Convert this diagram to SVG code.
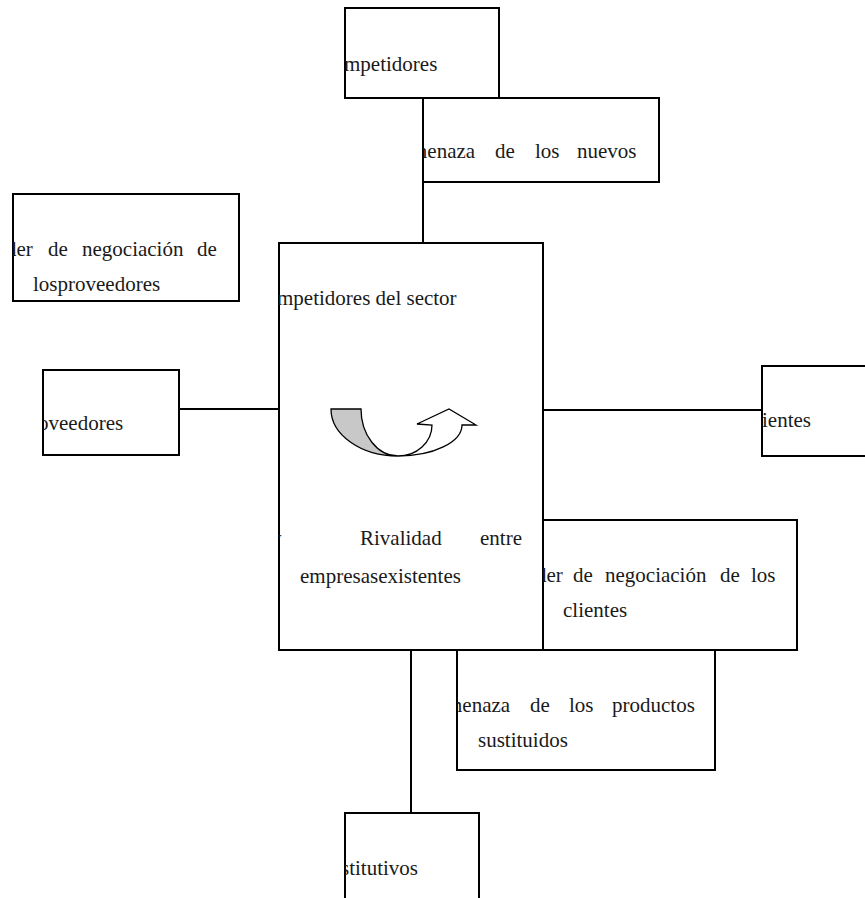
<svg xmlns="http://www.w3.org/2000/svg" width="865" height="898" viewBox="0 0 865 898">
  <style>
    .box { fill: #ffffff; stroke: #000000; stroke-width: 2; }
    .link { fill: none; stroke: #000000; stroke-width: 2; }
    .t { font-family: "Liberation Serif", "Times New Roman", serif; font-size: 21px; fill: #1a1a1a; }
    .arrow { stroke: #000000; stroke-width: 1.3; stroke-linejoin: miter; }
  </style>
  <defs>
    <clipPath id="c-comp"><rect x="345" y="8" width="154" height="90"/></clipPath>
    <clipPath id="c-nuevos"><rect x="423" y="98" width="236" height="84"/></clipPath>
    <clipPath id="c-podprov"><rect x="13" y="194" width="226" height="107"/></clipPath>
    <clipPath id="c-prov"><rect x="43" y="370" width="136" height="85"/></clipPath>
    <clipPath id="c-centro"><rect x="279" y="243" width="264" height="407"/></clipPath>
    <clipPath id="c-cli"><rect x="762" y="366" width="110" height="90"/></clipPath>
    <clipPath id="c-podcli"><rect x="543" y="520" width="254" height="130"/></clipPath>
    <clipPath id="c-prod"><rect x="457" y="650" width="258" height="120"/></clipPath>
    <clipPath id="c-sust"><rect x="345" y="813" width="134" height="100"/></clipPath>
  </defs>

  <!-- connectors -->
  <g id="connectors">
    <line class="link" x1="423" y1="182" x2="423" y2="243"/>
    <line class="link" x1="179" y1="409" x2="279" y2="409"/>
    <line class="link" x1="543" y1="410" x2="762" y2="410"/>
    <line class="link" x1="411" y1="650" x2="411" y2="813"/>
  </g>

  <g id="competidores">
    <rect class="box" x="345" y="8" width="154" height="90"/>
    <text class="t" x="344" y="71" clip-path="url(#c-comp)">mpetidores</text>
  </g>

  <g id="amenaza-nuevos">
    <rect class="box" x="423" y="98" width="236" height="84"/>
    <text class="t" y="158" clip-path="url(#c-nuevos)"><tspan x="411">menaza</tspan><tspan x="495">de</tspan><tspan x="535">los</tspan><tspan x="577">nuevos</tspan></text>
  </g>

  <g id="poder-proveedores">
    <rect class="box" x="13" y="194" width="226" height="107"/>
    <g clip-path="url(#c-podprov)">
      <text class="t" y="256"><tspan x="6">der</tspan><tspan x="48">de</tspan><tspan x="82">negociación</tspan><tspan x="197">de</tspan></text>
      <text class="t" x="33" y="291">losproveedores</text>
    </g>
  </g>

  <g id="proveedores">
    <rect class="box" x="43" y="370" width="136" height="85"/>
    <text class="t" x="38" y="430" clip-path="url(#c-prov)">oveedores</text>
  </g>

  <g id="competidores-sector">
    <rect class="box" x="279" y="243" width="264" height="407"/>
    <g clip-path="url(#c-centro)">
      <text class="t" x="277" y="305">mpetidores del sector</text>
      <text class="t" y="545"><tspan x="271">y</tspan><tspan x="360">Rivalidad</tspan><tspan x="480">entre</tspan></text>
      <text class="t" x="300" y="583">empresasexistentes</text>
    </g>
    <!-- curved rivalry arrow -->
    <path class="arrow" fill="#c8c8c8" d="M331,409 L361,409 A37,47 0 0 0 398,456 A67,47 0 0 1 331,409 Z"/>
    <path class="arrow" fill="#ffffff" d="M398,456 A64,31 0 0 0 462,425 L476,425 L449,409 L417,424 L432,425 A34,31 0 0 1 398,456 Z"/>
  </g>

  <g id="clientes">
    <rect class="box" x="762" y="366" width="110" height="90"/>
    <text class="t" x="762" y="427" clip-path="url(#c-cli)">ientes</text>
  </g>

  <g id="poder-clientes">
    <rect class="box" x="543" y="520" width="254" height="130"/>
    <g clip-path="url(#c-podcli)">
      <text class="t" y="582"><tspan x="536">der</tspan><tspan x="573">de</tspan><tspan x="605">negociación</tspan><tspan x="720">de</tspan><tspan x="751">los</tspan></text>
      <text class="t" x="563" y="617">clientes</text>
    </g>
  </g>

  <g id="amenaza-productos">
    <rect class="box" x="457" y="650" width="258" height="120"/>
    <g clip-path="url(#c-prod)">
      <text class="t" y="712"><tspan x="446">menaza</tspan><tspan x="530">de</tspan><tspan x="569">los</tspan><tspan x="612">productos</tspan></text>
      <text class="t" x="478" y="747">sustituidos</text>
    </g>
  </g>

  <g id="sustitutivos">
    <rect class="box" x="345" y="813" width="134" height="100"/>
    <text class="t" x="341" y="875" clip-path="url(#c-sust)">stitutivos</text>
  </g>
</svg>
